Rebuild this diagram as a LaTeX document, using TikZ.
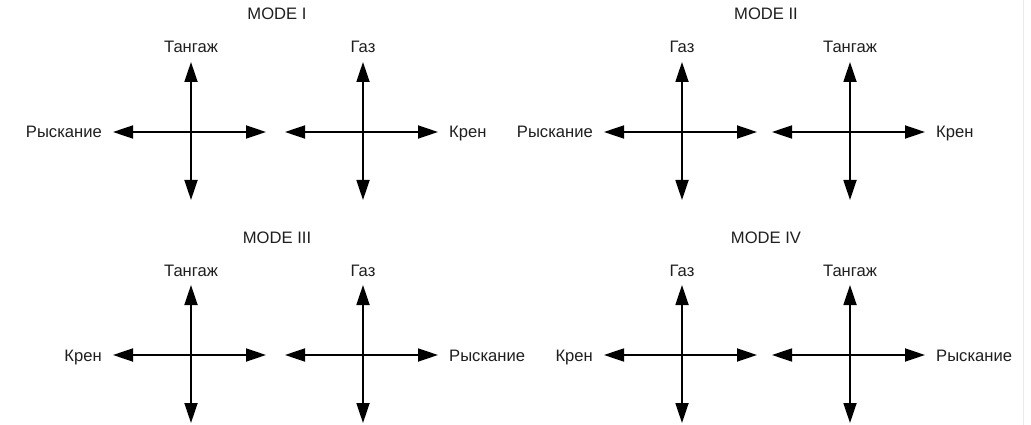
\documentclass[tikz,border=0pt]{standalone}
\usepackage{fontspec}
\setmainfont{Liberation Sans}
\usetikzlibrary{arrows.meta}

% One control mode: two crossed stick axes with their labels and a title.
% #1 name prefix, #2 x of left stick, #3 x of right stick, #4 y of both,
% #5 title, #6 left label, #7 label over left stick, #8 label over right stick,
% #9 right label
\newcommand\modepanel[9]{%
  \coordinate (#1a)  at (#2,#4);
  \coordinate (#1aN) at (#2,#4-70);
  \coordinate (#1aS) at (#2,#4+68);
  \coordinate (#1aW) at (#2-78,#4);
  \coordinate (#1aE) at (#2+75,#4);
  \coordinate (#1b)  at (#3,#4);
  \coordinate (#1bN) at (#3,#4-70);
  \coordinate (#1bS) at (#3,#4+68);
  \coordinate (#1bW) at (#3-78,#4);
  \coordinate (#1bE) at (#3+75,#4);
  \draw[axis] (#1aW) -- (#1aE);
  \draw[axis] (#1aN) -- (#1aS);
  \draw[axis] (#1bW) -- (#1bE);
  \draw[axis] (#1bN) -- (#1bS);
  \node[lbl, anchor=base] (#1title) at ({(#2+#3)/2},#4-112) {#5};
  \node[lbl, anchor=base east] (#1left) at (#2-89,#4+6) {#6};
  \node[lbl, anchor=base] (#1topa) at (#2,#4-79) {#7};
  \node[lbl, anchor=base] (#1topb) at (#3,#4-79) {#8};
  \node[lbl, anchor=base west] (#1right) at (#3+86,#4+6) {#9};
}

\begin{document}
\begin{tikzpicture}[x=1pt, y=-1pt,
  axis/.style={line width=1.8pt, black,
    {Triangle[length=20pt, width=13pt]}-{Triangle[length=20pt, width=13pt]}},
  lbl/.style={inner sep=0pt, text=black!88, font=\fontsize{16.6}{19}\selectfont}]
  \useasboundingbox (0,0) rectangle (1031,425);
  \fill[white] (0,0) rectangle (1031,425);
  \draw[black!8, line width=0.8pt] (1023,0) -- (1023,425);

  \modepanel{m1}{191}{363}{132}{MODE I}{Рыскание}{Тангаж}{Газ}{Крен}
  \modepanel{m2}{682}{850}{132}{MODE II}{Рыскание}{Газ}{Тангаж}{Крен}
  \modepanel{m3}{191}{363}{355}{MODE III}{Крен}{Тангаж}{Газ}{Рыскание}
  \modepanel{m4}{682}{850}{355}{MODE IV}{Крен}{Газ}{Тангаж}{Рыскание}
\end{tikzpicture}
\end{document}
